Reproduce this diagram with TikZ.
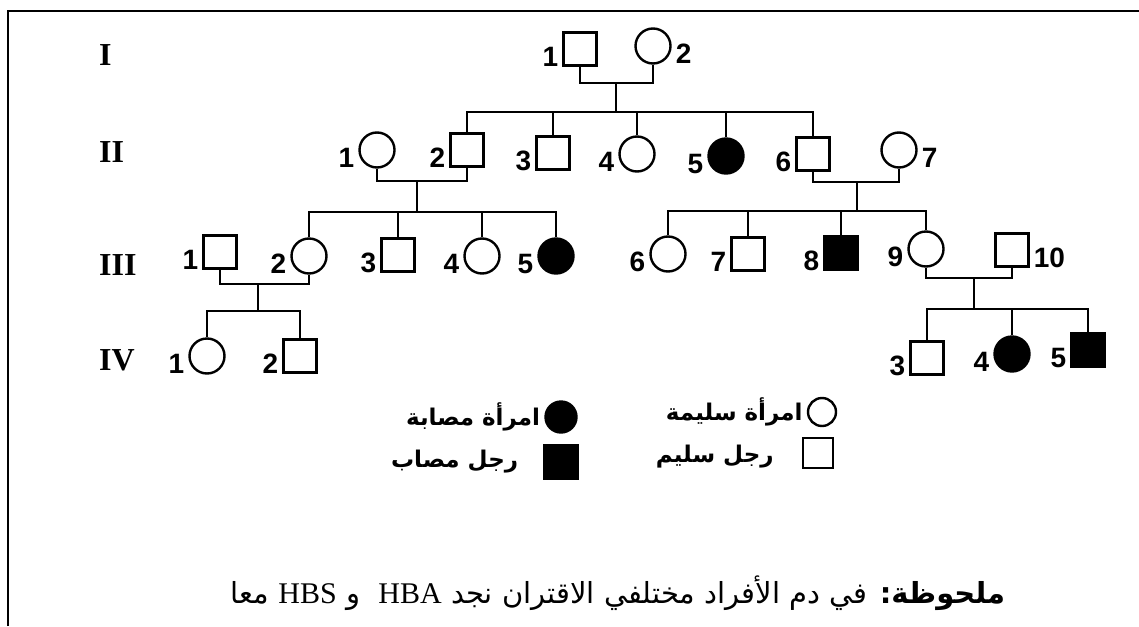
\documentclass[tikz,border=0pt]{standalone}
\usepackage{fontspec}
\setmainfont{Liberation Serif}
\newfontfamily\numfont{Liberation Sans}
\newfontfamily\arabicfont[Script=Arabic]{DejaVu Sans}
\TeXXeTstate=1
\usetikzlibrary{positioning}
\tikzset{
  man/.style={
    rectangle,
    draw, line width=2.4pt,
    minimum size=33pt,
    inner sep=0pt},
  woman/.style={
    circle,
    draw, line width=2.4pt,
    minimum size=35pt,
    inner sep=0pt},
  ill/.style={fill=black},
  num/.style={font=\numfont\bfseries\fontsize{28}{30}\selectfont, inner sep=0pt},
  lab/.style={label={[num, yshift=-8pt]left:#1}},
  labr/.style={label={[num, yshift=-8pt]right:#1}},
  gen/.style={font=\bfseries\fontsize{32}{34}\selectfont, anchor=base west, inner sep=0pt},
  keytext/.style={font=\arabicfont\bfseries\fontsize{23}{26}\selectfont, inner sep=0pt},
  note/.style={font=\arabicfont\fontsize{29}{32}\selectfont, inner sep=0pt},
  link/.style={draw, line width=2pt},
  frame/.style={draw, line width=2.4pt},
}

\begin{document}
\begin{tikzpicture}
  [x=1pt, y=-1pt,
  label distance=4pt]
  \useasboundingbox (0,0) rectangle (1139,626);
  \draw[frame] (8,626) -- (8,11) -- (1139,11);

  % generations
  \node[gen] (GenI) at (99,65) {I};
  \node[gen] (GenII) at (99,162) {II};
  \node[gen] (GenIII) at (99,275) {III};
  \node[gen] (GenIV) at (99,370) {IV};

  % I
  \node[man, lab=1] (IOne) at (580,49) {};
  \node[woman, labr=2] (ITwo) at (653,46) {};

  % II
  \node[woman, lab=1] (IIOne) at (377,150) {};
  \node[man, lab=2] (IITwo) at (467,150) {};
  \node[man, lab=3] (IIThree) at (553,153) {};
  \node[woman, lab=4] (IIFour) at (637,154) {};
  \node[woman, ill, lab=5] (IIFive) at (726,156) {};
  \node[man, lab=6] (IISix) at (813,154) {};
  \node[woman, labr=7] (IISeven) at (899,150) {};

  % III
  \node[man, lab=1] (IIIOne) at (220,252) {};
  \node[woman, lab=2] (IIITwo) at (309,256) {};
  \node[man, lab=3] (IIIThree) at (398,255) {};
  \node[woman, lab=4] (IIIFour) at (482,256) {};
  \node[woman, ill, lab=5] (IIIFive) at (556,256) {};
  \node[woman, lab=6] (IIISix) at (668,254) {};
  \node[man, lab=7] (IIISeven) at (748,254) {};
  \node[man, ill, lab=8] (IIIEight) at (841,253) {};
  \node[woman, lab=9] (IIINine) at (926,249) {};
  \node[man, labr=10] (IIITen) at (1012,250) {};

  % IV
  \node[woman, lab=1] (IVOne) at (207,356) {};
  \node[man, lab=2] (IVTwo) at (300,356) {};
  \node[man, lab=3] (IVThree) at (927,358) {};
  \node[woman, ill, lab=4] (IVFour) at (1012,354) {};
  \node[man, ill, lab=5] (IVFive) at (1088,350) {};

  % couples and children
  \coordinate (MarI) at (616,83);
  \coordinate (SibI) at (616,112);
  \draw[link] (IOne.south) |- (MarI) -| (ITwo.south);
  \draw[link] (MarI) -- (SibI);
  \draw[link] (IITwo.north) |- (SibI) -| (IISix.north);
  \foreach \kid in {IIThree,IIFour,IIFive}
    \draw[link] (\kid.north) -- (\kid.north |- SibI);

  \coordinate (MarIIa) at (417,181);
  \coordinate (SibIIa) at (417,212);
  \draw[link] (IIOne.south) |- (MarIIa) -| (IITwo.south);
  \draw[link] (MarIIa) -- (SibIIa);
  \draw[link] (IIITwo.north) |- (SibIIa) -| (IIIFive.north);
  \foreach \kid in {IIIThree,IIIFour}
    \draw[link] (\kid.north) -- (\kid.north |- SibIIa);

  \coordinate (MarIIb) at (857,182);
  \coordinate (SibIIb) at (857,211);
  \draw[link] (IISix.south) |- (MarIIb) -| (IISeven.south);
  \draw[link] (MarIIb) -- (SibIIb);
  \draw[link] (IIISix.north) |- (SibIIb) -| (IIINine.north);
  \foreach \kid in {IIISeven,IIIEight}
    \draw[link] (\kid.north) -- (\kid.north |- SibIIb);

  \coordinate (MarIIIa) at (258,284);
  \coordinate (SibIIIa) at (258,311);
  \draw[link] (IIIOne.south) |- (MarIIIa) -| (IIITwo.south);
  \draw[link] (MarIIIa) -- (SibIIIa);
  \draw[link] (IVOne.north) |- (SibIIIa) -| (IVTwo.north);

  \coordinate (MarIIIb) at (974,278);
  \coordinate (SibIIIb) at (974,309);
  \draw[link] (IIINine.south) |- (MarIIIb) -| (IIITen.south);
  \draw[link] (MarIIIb) -- (SibIIIb);
  \draw[link] (IVThree.north) |- (SibIIIb) -| (IVFive.north);
  \draw[link] (IVFour.north) -- (IVFour.north |- SibIIIb);

  % key
  \node[woman, ill, minimum size=31pt] (KeyIllWoman) at (561,417) {};
  \node[man, ill] (KeyIllMan) at (561,462) {};
  \node[woman, minimum size=28pt] (KeyWoman) at (822,412) {};
  \node[man, minimum size=30pt] (KeyMan) at (818,453) {};
  \node[keytext, left=4pt of KeyIllWoman] (KeyIllWomanText) {\beginR امرأة مصابة\endR};
  \node[keytext, left=25pt of KeyIllMan] (KeyIllManText) {\beginR رجل مصاب\endR};
  \node[keytext, left=4pt of KeyWoman] (KeyWomanText) {\beginR امرأة سليمة\endR};
  \node[keytext, left=28pt of KeyMan, yshift=-4pt] (KeyManText) {\beginR رجل سليم\endR};

  \node[note, anchor=base] (Note) at (618,603)
    {\beginR{\bfseries ملحوظة:} في دم الأفراد مختلفي الاقتران نجد \beginL{\rmfamily\fontsize{30}{30}\selectfont HBA}\endL\ \ و \beginL{\rmfamily\fontsize{30}{30}\selectfont HBS}\endL{} معا\endR};
\end{tikzpicture}
\end{document}
